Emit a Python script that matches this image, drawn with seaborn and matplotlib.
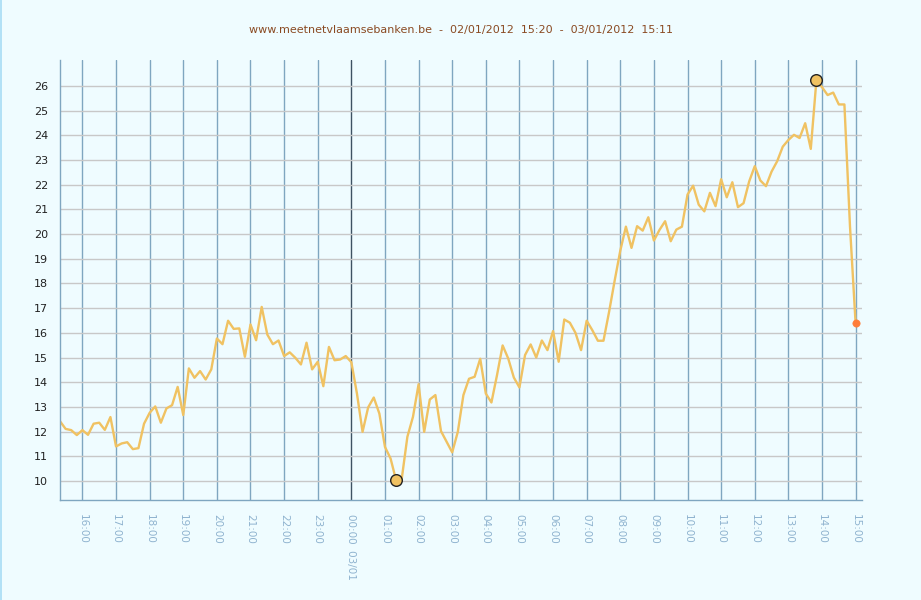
import pandas as pd
import matplotlib
matplotlib.use("Agg")
import matplotlib.pyplot as plt
from matplotlib.lines import Line2D
import seaborn as sns

# 10-minute readings, 02/01/2012 15:20 -> 03/01/2012 15:00
start = "2012-01-02 15:20"
levels = [
    12.42, 12.11, 12.06, 11.86, 12.06, 11.87, 12.32, 12.36, 12.07, 12.59,
    11.40, 11.52, 11.57, 11.29, 11.33, 12.32, 12.76, 13.02, 12.36, 12.94,
    13.07, 13.81, 12.67, 14.56, 14.18, 14.45, 14.11, 14.52, 15.77, 15.54,
    16.49, 16.16, 16.18, 15.03, 16.34, 15.70, 17.05, 15.93, 15.54, 15.69,
    15.06, 15.21, 14.99, 14.72, 15.60, 14.52, 14.83, 13.84, 15.43, 14.89,
    14.92, 15.06, 14.81, 13.54, 11.99, 12.98, 13.38, 12.73, 11.38, 10.91,
    10.02, 10.10, 11.79, 12.60, 13.92, 11.99, 13.30, 13.48, 12.02, 11.59,
    11.16, 11.99, 13.48, 14.14, 14.22, 14.95, 13.54, 13.18, 14.29, 15.49,
    14.96, 14.19, 13.79, 15.10, 15.53, 15.00, 15.69, 15.30, 16.07, 14.83,
    16.54, 16.41, 16.00, 15.30, 16.49, 16.11, 15.68, 15.68, 16.85, 18.12,
    19.33, 20.30, 19.44, 20.32, 20.14, 20.68, 19.74, 20.17, 20.52, 19.71,
    20.18, 20.30, 21.60, 21.96, 21.19, 20.92, 21.67, 21.13, 22.22, 21.49,
    22.10, 21.09, 21.25, 22.13, 22.75, 22.17, 21.94, 22.53, 22.95, 23.54,
    23.81, 24.02, 23.89, 24.49, 23.45, 26.22, 25.95, 25.63, 25.73, 25.25,
    25.25, 20.30, 16.38,
]
tick_labels = [
    "16:00", "17:00", "18:00", "19:00", "20:00", "21:00", "22:00", "23:00",
    "00:00  03/01", "01:00", "02:00", "03:00", "04:00", "05:00", "06:00",
    "07:00", "08:00", "09:00", "10:00", "11:00", "12:00", "13:00", "14:00", "15:00",
]
y_ticks = list(range(10, 27))
title = "www.meetnetvlaamsebanken.be  -  02/01/2012  15:20  -  03/01/2012  15:11"

df = pd.DataFrame({
    "time": pd.date_range(start, periods=len(levels), freq="10min"),
    "level": levels,
})

bg = "#effcff"
line_c = "#f0c262"
vgrid = "#7fa6c0"

sns.set_style("white")
plt.rcParams["font.family"] = ["DejaVu Sans"]

fig = plt.figure(figsize=(9.21, 6), dpi=100, facecolor=bg)
ax = fig.add_axes([60 / 921, 100 / 600, 802 / 921, 440 / 600], facecolor=bg)

sns.lineplot(data=df, x="time", y="level", ax=ax, color=line_c, linewidth=1.7)

# min / max markers and last value
ext = df.loc[[df["level"].idxmin(), df["level"].idxmax()]]
sns.scatterplot(data=ext, x="time", y="level", ax=ax, s=70, color=line_c,
                edgecolor="#222222", linewidth=1, zorder=5)
sns.scatterplot(data=df.tail(1), x="time", y="level", ax=ax, s=28,
                color="#ff7d3a", edgecolor="#ff7d3a", zorder=5)

ax.set_xlim(pd.Timestamp("2012-01-02 15:20"), pd.Timestamp("2012-01-03 15:11:24"))
ax.set_ylim(9.23, 27.05)
ax.set_xticks(pd.date_range("2012-01-02 16:00", periods=len(tick_labels), freq="h"))
ax.set_xticklabels(tick_labels, rotation=-90)
ax.set_yticks(y_ticks)
ax.set_xlabel("")
ax.set_ylabel("")

ax.grid(axis="y", color="#c8c8c8", linewidth=1)
ax.grid(axis="x", color=vgrid, linewidth=1)
ax.get_xgridlines()[8].set_color("#3e5262")
ax.set_axisbelow(True)

for s in ["top", "right"]:
    ax.spines[s].set_visible(False)
for s in ["left", "bottom"]:
    ax.spines[s].set_color(vgrid)
    ax.spines[s].set_linewidth(1)

ax.tick_params(axis="x", direction="out", length=2.5, width=1, color="#555555",
               labelcolor="#8fb3cf", labelsize=7.5, pad=7.5)
ax.tick_params(axis="y", direction="out", length=2.5, width=1, color="#555555",
               labelcolor="#222222", labelsize=8, pad=6)

fig.text(0.5, 1 - 30 / 600, title, ha="center", va="center",
         color="#8a4a22", fontsize=8)
fig.add_artist(Line2D([0.6 / 921, 0.6 / 921], [0, 1], color="#a6dcf5", linewidth=1.2))

fig.savefig("out.png", dpi=100, facecolor=bg)
plt.close(fig)
